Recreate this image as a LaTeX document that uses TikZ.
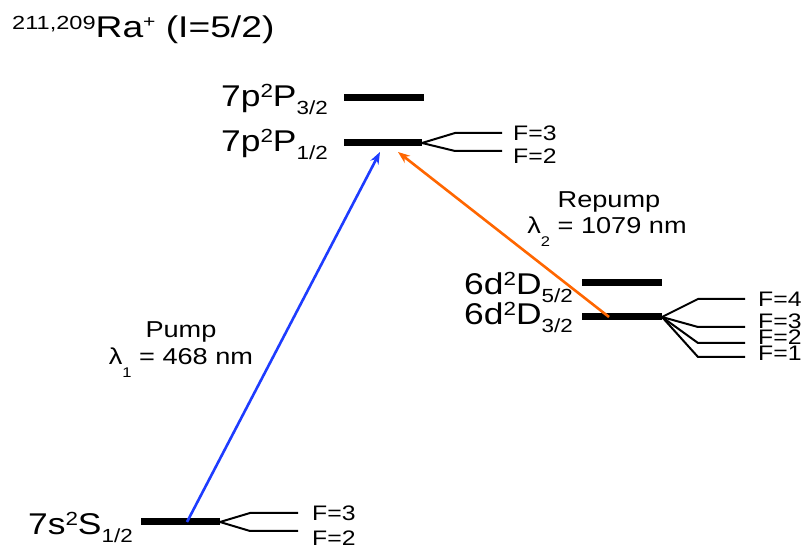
\documentclass[tikz,border=0pt]{standalone}
\usepackage{fontspec}
\setmainfont{Liberation Sans}
\usetikzlibrary{arrows.meta}

\definecolor{pumpblue}{RGB}{30,60,255}
\definecolor{repumporange}{RGB}{255,102,0}

% level name: n l, superscript 2S+1, L, subscript J
\newcommand{\lvltext}[4]{#1\raisebox{9pt}{\fontsize{19}{19}\selectfont #2}#3\raisebox{-8pt}{\fontsize{19}{19}\selectfont #4}}
\newcommand{\wlsub}[1]{\raisebox{-13pt}{\fontsize{14}{14}\selectfont #1}}

\begin{document}
\begin{tikzpicture}[x=1pt,y=1pt,
  levelbar/.style={line width=7pt},
  fan/.style={line width=2pt},
  txt/.style={inner sep=0pt, xscale=1.18, transform shape},
  lvl/.style={txt, font=\fontsize{30}{36}\selectfont, anchor=base east},
  flab/.style={txt, font=\fontsize{21}{25}\selectfont, anchor=west},
  beamlabel/.style={txt, font=\fontsize{23}{28}\selectfont, anchor=base},
  beam/.style={line width=2.6pt, -{Stealth[length=12pt,width=9pt]}}]
  \useasboundingbox (0,0) rectangle (806,554);

  % --- title ---
  \node[inner sep=0pt, xscale=1.24, transform shape, anchor=base west, font=\fontsize{30}{36}\selectfont] (title) at (12,516)
    {\raisebox{8pt}{\fontsize{19}{19}\selectfont 211,209}Ra\raisebox{10pt}{\fontsize{17}{17}\selectfont +} (I=5/2)};

  % --- level end points ---
  \coordinate (p32l) at (344,456); \coordinate (p32r) at (424,456);
  \coordinate (p12l) at (344,411); \coordinate (p12r) at (422,411);
  \coordinate (d52l) at (582,271); \coordinate (d52r) at (662,271);
  \coordinate (d32l) at (582,237); \coordinate (d32r) at (662,237);
  \coordinate (s12l) at (141,32);  \coordinate (s12r) at (220,32);

  % --- levels ---
  \draw[levelbar] (p32l) -- (p32r);
  \draw[levelbar] (p12l) -- (p12r);
  \draw[levelbar] (d52l) -- (d52r);
  \draw[levelbar] (d32l) -- (d32r);
  \draw[levelbar] (s12l) -- (s12r);

  \node[lvl] (p32) at (328,447) {\lvltext{7p}{2}{P}{3/2}};
  \node[lvl] (p12) at (328,402) {\lvltext{7p}{2}{P}{1/2}};
  \node[lvl] (d52) at (573,259) {\lvltext{6d}{2}{D}{5/2}};
  \node[lvl] (d32) at (573,229) {\lvltext{6d}{2}{D}{3/2}};
  \node[lvl] (s12) at (133,19)  {\lvltext{7s}{2}{S}{1/2}};

  % --- hyperfine fans ---
  \draw[fan] (p12r) -- ++(33,10)  -- ++(47,0);
  \draw[fan] (p12r) -- ++(33,-8)  -- ++(47,0);
  \node[flab] (p12F3) at (513,421) {F=3};
  \node[flab] (p12F2) at (513,398) {F=2};

  \foreach \dy/\f/\ly in {18/4/255, -10/3/233, -26/2/217, -40/1/201} {
    \draw[fan] (d32r) -- ++(36,\dy) -- ++(47,0);
    \node[flab] (d32F\f) at (758,\ly) {F=\f};
  }

  \draw[fan] (s12r) -- ++(30,9)  -- ++(48,0);
  \draw[fan] (s12r) -- ++(30,-9) -- ++(48,0);
  \node[flab] (s12F3) at (312,41) {F=3};
  \node[flab] (s12F2) at (312,16) {F=2};

  % --- laser transitions ---
  \coordinate (pumpfrom) at (187,32);
  \coordinate (pumpto) at (380,402);
  \coordinate (repumpfrom) at (609,237);
  \coordinate (repumpto) at (398,402);
  \draw[beam, pumpblue] (pumpfrom) -- (pumpto);
  \draw[beam, repumporange] (repumpfrom) -- (repumpto);

  \node[beamlabel] (pump) at (181,216) {Pump};
  \node[beamlabel] (pumpwl) at (181,189) {λ\wlsub{1} = 468 nm};
  \node[beamlabel] (repump) at (609,346) {Repump};
  \node[beamlabel] (repumpwl) at (607,320) {λ\wlsub{2} = 1079 nm};
\end{tikzpicture}
\end{document}
